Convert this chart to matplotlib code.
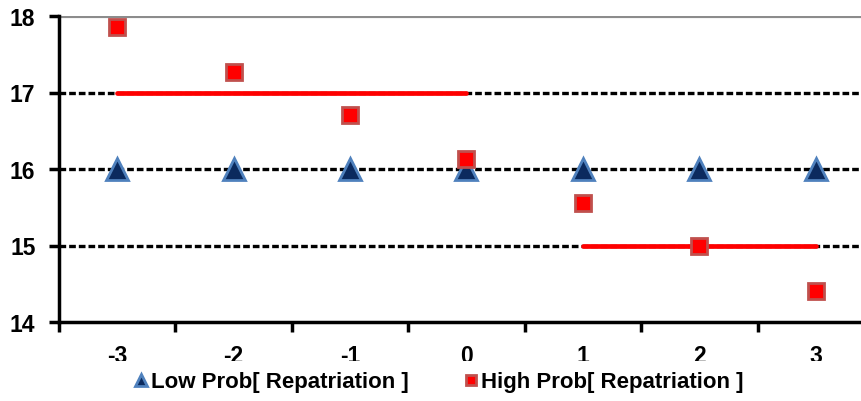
import matplotlib
matplotlib.use("Agg")
import matplotlib.pyplot as plt
from matplotlib.lines import Line2D
from matplotlib.patches import Rectangle

categories = ["-3", "-2", "-1", "0", "1", "2", "3"]
low_prob = [16, 16, 16, 16, 16, 16, 16]
high_prob = [17.86, 17.27, 16.70, 16.13, 15.56, 14.99, 14.41]
line1_x = ["-3", "0"]
line1_y = [17, 17]
line2_x = ["1", "3"]
line2_y = [15, 15]
yticks = [14, 15, 16, 17, 18]

plt.rcParams['font.family'] = ['Liberation Sans', 'DejaVu Sans']
plt.rcParams['font.weight'] = 'bold'

fig = plt.figure(figsize=(8.62, 4.02), dpi=100)
W, H = 862, 402
ax = fig.add_axes([59 / W, 1 - 323 / H, 815 / W, 306 / H])

xpos = {c: i for i, c in enumerate(categories)}
xs = [xpos[c] for c in categories]

for y in [15, 16, 17]:
    ax.axhline(y, color='black', lw=2.4, ls=(0, (2.0, 0.9)), zorder=1)
ax.axhline(18, color='#8c8c8c', lw=3, zorder=1)

ax.plot([xpos[c] for c in line1_x], line1_y, color='#ff0000', lw=3.4,
        solid_capstyle='round', zorder=2)
ax.plot([xpos[c] for c in line2_x], line2_y, color='#ff0000', lw=3.4,
        solid_capstyle='round', zorder=2)

ax.plot(xs, low_prob, ls='none', marker='^', markersize=16,
        markerfacecolor='#0b2a5e', markeredgecolor='#4f81bd', markeredgewidth=2, zorder=3)
ax.plot(xs, high_prob, ls='none', marker='s', markersize=12,
        markerfacecolor='#ff0000', markeredgecolor='#c0504d', markeredgewidth=2, zorder=4)

ax.set_xlim(-0.5, 6.5)
ax.set_ylim(14, 18)
ax.set_yticks(yticks)
ax.set_yticklabels([str(v) for v in yticks], fontsize=16.5, fontweight='bold')
ax.set_xticks([i - 0.5 for i in range(len(categories) + 1)])
ax.set_xticklabels([])
ax.set_xticks(xs, minor=True)
ax.set_xticklabels(categories, minor=True, fontsize=16.5, fontweight='bold')
ax.tick_params(axis='x', which='minor', length=0, pad=16)
ax.tick_params(axis='x', which='major', length=7, width=2.5, direction='out')
ax.tick_params(axis='y', length=7, width=2.5, direction='out', pad=10)

for s in ['top', 'right']:
    ax.spines[s].set_visible(False)
ax.spines['left'].set_linewidth(2.5)
ax.spines['bottom'].set_linewidth(2.5)

# white band hiding the lower part of the category labels, as in the reference
cover = Rectangle((0, 0), 1, (402 - 362) / H, transform=fig.transFigure,
                  facecolor='white', edgecolor='none', zorder=5)
fig.add_artist(cover)

handles = [
    Line2D([], [], ls='none', marker='^', markersize=9, markerfacecolor='#0b2a5e',
           markeredgecolor='#4f81bd', markeredgewidth=2),
    Line2D([], [], ls='none', marker='s', markersize=7, markerfacecolor='#ff0000',
           markeredgecolor='#c0504d', markeredgewidth=2),
]
leg = fig.legend(handles, ["Low Prob[ Repatriation ]", "High Prob[ Repatriation ]"],
                 loc='center', bbox_to_anchor=(439 / W, 1 - 383 / H), ncol=2,
                 frameon=False, handlelength=0.6, handletextpad=0.15, columnspacing=2.5,
                 borderpad=0.1, prop={'size': 16, 'weight': 'bold'})
leg.set_zorder(10)

fig.savefig("out.png", dpi=100)
